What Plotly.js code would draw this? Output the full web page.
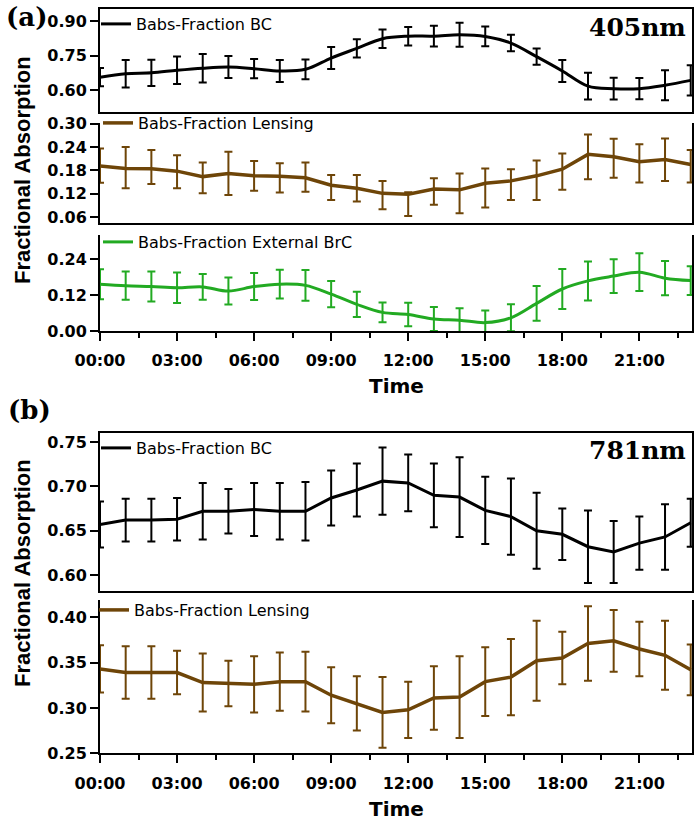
<!DOCTYPE html>
<html>
<head>
<meta charset="utf-8">
<script src="https://cdn.plot.ly/plotly-3.0.1.min.js"></script>
<style>html,body{margin:0;padding:0;background:#fff;}#chart{width:700px;height:821px;}</style>
</head>
<body>
<div id="chart"></div>
<script>
// ---- data ----
const hours = [0,1,2,3,4,5,6,7,8,9,10,11,12,13,14,15,16,17,18,19,20,21,22,23];
const tickVals = [0,3,6,9,12,15,18,21];
const tickText = ["00:00","03:00","06:00","09:00","12:00","15:00","18:00","21:00"];

// (a) 405 nm
const bcA    = [0.657,0.672,0.676,0.687,0.696,0.701,0.694,0.684,0.691,0.740,0.782,0.824,0.835,0.835,0.841,0.834,0.805,0.746,0.684,0.618,0.607,0.607,0.622,0.643];
const bcAErr = [0.040,0.060,0.057,0.060,0.062,0.048,0.042,0.048,0.043,0.048,0.040,0.040,0.040,0.045,0.052,0.043,0.036,0.035,0.048,0.058,0.047,0.046,0.065,0.066];

const lensA      = [0.191,0.185,0.184,0.178,0.164,0.172,0.166,0.165,0.161,0.142,0.134,0.121,0.119,0.132,0.130,0.147,0.153,0.166,0.183,0.221,0.215,0.202,0.208,0.195];
const lensAErrUp = [0.045,0.055,0.048,0.041,0.036,0.056,0.038,0.033,0.039,0.026,0.034,0.032,0.005,0.028,0.042,0.038,0.030,0.039,0.040,0.051,0.046,0.045,0.054,0.037];
const lensAErrDn = [0.043,0.051,0.039,0.044,0.043,0.055,0.038,0.042,0.036,0.038,0.034,0.041,0.056,0.040,0.060,0.062,0.049,0.062,0.053,0.064,0.054,0.053,0.055,0.046];

const brcA    = [0.156,0.151,0.148,0.144,0.147,0.133,0.148,0.156,0.152,0.123,0.089,0.062,0.055,0.040,0.036,0.028,0.044,0.092,0.140,0.167,0.183,0.196,0.176,0.168];
const brcAErr = [0.050,0.047,0.050,0.051,0.043,0.045,0.045,0.048,0.051,0.044,0.042,0.033,0.039,0.040,0.040,0.040,0.045,0.058,0.067,0.065,0.056,0.063,0.057,0.048];

// (b) 781 nm
const bcB    = [0.657,0.662,0.662,0.663,0.672,0.672,0.674,0.672,0.672,0.687,0.696,0.706,0.704,0.690,0.688,0.673,0.666,0.650,0.646,0.632,0.626,0.636,0.643,0.659];
const bcBErr = [0.026,0.024,0.024,0.024,0.032,0.025,0.030,0.032,0.033,0.031,0.030,0.038,0.032,0.036,0.045,0.038,0.043,0.043,0.029,0.041,0.035,0.030,0.037,0.027];

const lensB    = [0.343,0.339,0.339,0.339,0.328,0.327,0.326,0.329,0.329,0.314,0.305,0.295,0.298,0.311,0.312,0.329,0.334,0.352,0.355,0.371,0.374,0.365,0.358,0.342];
const lensBErr = [0.026,0.029,0.029,0.024,0.032,0.025,0.031,0.032,0.033,0.031,0.030,0.039,0.031,0.035,0.045,0.038,0.042,0.044,0.029,0.041,0.034,0.030,0.038,0.028];

const names = {
  bc: "Babs-Fraction BC",
  lens: "Babs-Fraction Lensing",
  brc: "Babs-Fraction External BrC"
};

// ---- styles ----
const BLACK = "#000000", BROWN = "#6E4508", GREEN = "#22AA22";
const W = 700, H = 821;
const px = v => v / W, py = v => 1 - v / H;

function errObj(color, arr, arrMinus) {
  const e = {type: "data", array: arr, visible: true, color: color, thickness: 2, width: 4};
  if (arrMinus) { e.symmetric = false; e.arrayminus = arrMinus; }
  return e;
}
function tr(y, err, errMinus, color, lw, shape, xa, ya, name, leg) {
  return {
    x: hours, y: y, type: "scatter", mode: "lines", name: name,
    line: {color: color, width: lw, shape: shape},
    error_y: errObj(color, err, errMinus),
    xaxis: xa, yaxis: ya, legend: leg, showlegend: true, hoverinfo: "x+y"
  };
}

const data = [
  tr(bcA, bcAErr, null, BLACK, 3, "spline", "x2", "y", names.bc, "legend"),
  tr(lensA, lensAErrUp, lensAErrDn, BROWN, 3.5, "linear", "x3", "y2", names.lens, "legend2"),
  tr(brcA, brcAErr, null, GREEN, 3, "spline", "x", "y3", names.brc, "legend3"),
  tr(bcB, bcBErr, null, BLACK, 3, "linear", "x5", "y4", names.bc, "legend4"),
  tr(lensB, lensBErr, null, BROWN, 3.5, "linear", "x4", "y5", names.lens, "legend5")
];

const tickFont = {family: "DejaVu Sans", size: 16, color: "#000", weight: "bold"};
const xDom = [px(100), px(692)];
const xRange = [0, 23.05];

function xAxisBase(anchor, showTicks, mirror) {
  const a = {
    domain: xDom, range: xRange, anchor: anchor, showgrid: false, zeroline: false,
    showline: true, linecolor: "#000", linewidth: 2, mirror: mirror,
    fixedrange: true
  };
  if (showTicks) {
    Object.assign(a, {
      tickmode: "array", tickvals: tickVals, ticktext: tickText,
      ticks: "outside", ticklen: 8, tickwidth: 2, tickcolor: "#000",
      tickfont: tickFont, ticklabelstandoff: 6,
      minor: {ticks: "outside", ticklen: 5, tickwidth: 2, tickcolor: "#000", tick0: 0, dtick: 1.5, showgrid: false}
    });
  } else {
    Object.assign(a, {ticks: "", showticklabels: false});
  }
  return a;
}
function yAxisBase(anchor, top, bottom, range, dtick, tick0) {
  return {
    domain: [py(bottom), py(top)], range: range, anchor: anchor,
    showgrid: false, zeroline: false, showline: true, linecolor: "#000", linewidth: 2,
    mirror: true, ticks: "outside", ticklen: 8, tickwidth: 2, tickcolor: "#000",
    tickmode: "linear", dtick: dtick, tick0: tick0, tickformat: ".2f",
    tickfont: tickFont, fixedrange: true
  };
}
function legendAt(xp, yp) {
  return {
    x: px(xp), y: py(yp), xanchor: "left", yanchor: "middle",
    bgcolor: "rgba(0,0,0,0)", borderwidth: 0,
    font: {family: "DejaVu Sans", size: 16, color: "#000"},
    itemclick: false, itemdoubleclick: false
  };
}

const layout = {
  width: W, height: H, autosize: false,
  margin: {l: 0, r: 0, t: 0, b: 0, pad: 0},
  paper_bgcolor: "#fff", plot_bgcolor: "rgba(0,0,0,0)",
  font: {family: "DejaVu Sans", color: "#000"},
  // panel (a)
  xaxis:  xAxisBase("y3", true, false),
  xaxis2: Object.assign(xAxisBase("y", false, true), {matches: "x"}),
  xaxis3: Object.assign(xAxisBase("y2", false, false), {matches: "x"}),
  yaxis:  yAxisBase("x2", 9, 111.7, [0.507, 0.953], 0.15, 0),
  yaxis2: yAxisBase("x3", 123, 223, [0.045, 0.3015], 0.06, 0),
  yaxis3: yAxisBase("x", 235, 331, [0, 0.32], 0.12, 0),
  // panel (b)
  xaxis4: xAxisBase("y5", true, false),
  xaxis5: Object.assign(xAxisBase("y4", false, true), {matches: "x4"}),
  yaxis4: yAxisBase("x5", 433.3, 591, [0.582, 0.76], 0.05, 0),
  yaxis5: yAxisBase("x4", 600, 753.3, [0.25, 0.419], 0.05, 0),
  legend:  legendAt(96, 24),
  legend2: legendAt(98, 123),
  legend3: legendAt(98, 242),
  legend4: legendAt(96, 448),
  legend5: legendAt(94, 610),
  annotations: [
    {text: "(a)", x: px(4), y: py(17), xref: "paper", yref: "paper", xanchor: "left", yanchor: "middle", showarrow: false,
     font: {family: "DejaVu Serif", size: 26, weight: "bold", color: "#000"}},
    {text: "(b)", x: px(6), y: py(410), xref: "paper", yref: "paper", xanchor: "left", yanchor: "middle", showarrow: false,
     font: {family: "DejaVu Serif", size: 26, weight: "bold", color: "#000"}},
    {text: "405nm", x: px(688), y: py(28), xref: "paper", yref: "paper", xanchor: "right", yanchor: "middle", showarrow: false,
     font: {family: "DejaVu Serif", size: 25, weight: "bold", color: "#000"}},
    {text: "781nm", x: px(688), y: py(450), xref: "paper", yref: "paper", xanchor: "right", yanchor: "middle", showarrow: false,
     font: {family: "DejaVu Serif", size: 25, weight: "bold", color: "#000"}},
    {text: "Time", x: px(396), y: py(386), xref: "paper", yref: "paper", xanchor: "center", yanchor: "middle", showarrow: false,
     font: {family: "DejaVu Sans", size: 20, weight: "bold", color: "#000"}},
    {text: "Time", x: px(396), y: py(809), xref: "paper", yref: "paper", xanchor: "center", yanchor: "middle", showarrow: false,
     font: {family: "DejaVu Sans", size: 20, weight: "bold", color: "#000"}},
    {text: "Fractional Absorption", x: px(22), y: py(170), xref: "paper", yref: "paper", xanchor: "center", yanchor: "middle", showarrow: false, textangle: -90,
     font: {family: "Liberation Sans", size: 22, weight: "bold", color: "#000"}},
    {text: "Fractional Absorption", x: px(22), y: py(573), xref: "paper", yref: "paper", xanchor: "center", yanchor: "middle", showarrow: false, textangle: -90,
     font: {family: "Liberation Sans", size: 22, weight: "bold", color: "#000"}}
  ]
};

Plotly.newPlot("chart", data, layout, {displayModeBar: false, staticPlot: true});
</script>
</body>
</html>
